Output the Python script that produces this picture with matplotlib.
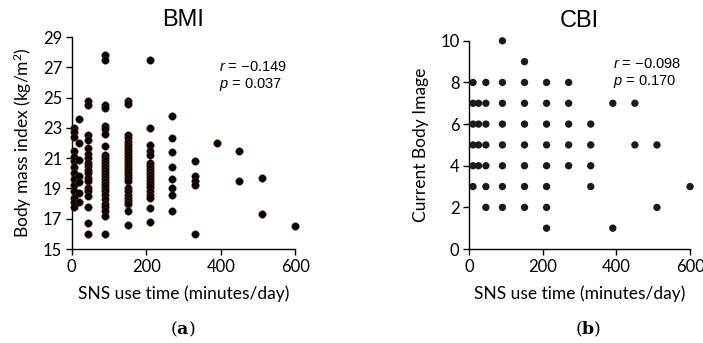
import matplotlib.pyplot as plt

# SNS use time (minutes/day) vs. BMI, one list per time group
bmi_by_time = [
    (5,   [23.0, 22.7, 22.4, 21.5, 21.1, 20.8, 20.4, 20.0, 19.6, 19.2, 18.8, 18.4, 18.1, 17.8]),
    (20,  [23.6, 22.0, 20.9, 19.8, 19.4, 18.7, 18.1]),
    (45,  [24.8, 24.5, 22.5, 22.2, 21.7, 21.3, 21.0, 20.7, 20.5, 20.2, 20.0, 19.7,
           19.5, 19.0, 18.8, 18.5, 17.8, 16.7, 16.0]),
    (90,  [27.8, 27.5, 24.5, 24.3, 23.1, 22.9, 22.6, 21.8, 21.2, 21.0, 20.8, 20.6,
           20.4, 20.2, 20.0, 19.8, 19.6, 19.4, 19.2, 19.0, 18.8, 18.6, 18.3, 18.0,
           17.8, 17.5, 17.2, 16.0]),
    (150, [24.8, 24.6, 22.5, 22.3, 22.1, 21.9, 21.7, 21.5, 21.3, 21.1, 20.9, 20.7,
           20.5, 20.3, 20.1, 19.9, 19.7, 19.5, 19.0, 18.8, 18.6, 18.4, 18.2, 18.0,
           17.5, 16.6]),
    (210, [27.5, 23.0, 21.9, 21.5, 21.2, 20.7, 20.5, 20.3, 20.1, 19.9, 19.7, 19.5,
           19.3, 19.1, 18.8, 18.6, 18.4, 17.7, 16.8]),
    (270, [23.8, 22.3, 21.4, 20.4, 19.6, 19.0, 18.6, 17.5]),
    (330, [20.8, 19.8, 19.5, 19.2, 16.0]),
    (390, [22.0]),
    (450, [21.5, 19.5]),
    (510, [19.7, 17.3]),
    (600, [16.5]),
]

# SNS use time vs. Current Body Image score
cbi_by_time = [
    (10,  [3, 4, 5, 6, 7, 8]),
    (25,  [4, 5, 6, 7]),
    (45,  [2, 3, 4, 5, 6, 7, 8]),
    (90,  [2, 3, 4, 5, 6, 7, 8, 10]),
    (150, [2, 3, 4, 5, 6, 7, 8, 9]),
    (210, [1, 2, 3, 4, 5, 6, 7, 8]),
    (270, [4, 5, 6, 7, 8]),
    (330, [3, 4, 5, 6]),
    (390, [1, 7]),
    (450, [5, 7]),
    (510, [2, 5]),
    (600, [3]),
]

bmi_x = [t for t, vals in bmi_by_time for _ in vals]
bmi_y = [v for _, vals in bmi_by_time for v in vals]
cbi_x = [t for t, vals in cbi_by_time for _ in vals]
cbi_y = [v for _, vals in cbi_by_time for v in vals]

plt.rcParams['mathtext.fontset'] = 'custom'
plt.rcParams['mathtext.it'] = 'Liberation Sans:italic'
plt.rcParams['mathtext.rm'] = 'Liberation Sans'
plt.rcParams['mathtext.bf'] = 'DejaVu Serif:bold'

sans = ['Liberation Sans', 'DejaVu Sans']
label_font = ['Lato', 'DejaVu Sans']

fig = plt.figure(figsize=(7.03, 3.43), dpi=100)
ax1 = fig.add_axes([0.102, 0.274, 0.318, 0.618])
ax2 = fig.add_axes([0.6676, 0.274, 0.314, 0.607])


def style_axes(ax):
    for side in ('top', 'right'):
        ax.spines[side].set_visible(False)
    for side in ('left', 'bottom'):
        ax.spines[side].set_linewidth(1.0)
    ax.tick_params(direction='out', length=4, width=1.0, labelsize=12, pad=3)
    for lbl in ax.get_xticklabels() + ax.get_yticklabels():
        lbl.set_family(label_font)


# (a) BMI
ax1.scatter(bmi_x, bmi_y, s=30, c='black', edgecolors='#8a3a10', linewidths=0.3,
            clip_on=False, zorder=3)
ax1.set_xlim(0, 600)
ax1.set_ylim(15, 29)
ax1.set_xticks([0, 200, 400, 600])
ax1.set_yticks(range(15, 30, 2))
style_axes(ax1)
ax1.set_xlabel('SNS use time (minutes/day)', fontsize=12.5, family=label_font, labelpad=8)
ax1.set_ylabel('Body mass index (kg/m$^\\mathregular{2}$)', fontsize=12.5,
               family=label_font, labelpad=6)
ax1.set_title('BMI', fontsize=17, family=sans, pad=8)
ax1.text(0.66, 0.84, r'$r$ = −0.149', transform=ax1.transAxes, fontsize=10.5, family=sans)
ax1.text(0.66, 0.76, r'$p$ = 0.037', transform=ax1.transAxes, fontsize=10.5, family=sans)

# (b) CBI
ax2.scatter(cbi_x, cbi_y, s=28, c='#1a1a1a', edgecolors='none', clip_on=False, zorder=3)
ax2.set_xlim(0, 600)
ax2.set_ylim(0, 10)
ax2.set_xticks([0, 200, 400, 600])
ax2.set_yticks(range(0, 11, 2))
style_axes(ax2)
ax2.set_xlabel('SNS use time (minutes/day)', fontsize=12.5, family=label_font, labelpad=8)
ax2.set_ylabel('Current Body Image', fontsize=12.5, family=label_font, labelpad=8)
ax2.set_title('CBI', fontsize=17, family=sans, pad=10)
ax2.text(0.65, 0.87, r'$r$ = −0.098', transform=ax2.transAxes, fontsize=10.5, family=sans)
ax2.text(0.65, 0.79, r'$p$ = 0.170', transform=ax2.transAxes, fontsize=10.5, family=sans)

fig.text(0.26, 0.025, r'($\mathbf{a}$)', fontsize=12.5, family='DejaVu Serif', ha='center')
fig.text(0.837, 0.025, r'($\mathbf{b}$)', fontsize=12.5, family='DejaVu Serif', ha='center')

fig.savefig('out.png', dpi=100)
